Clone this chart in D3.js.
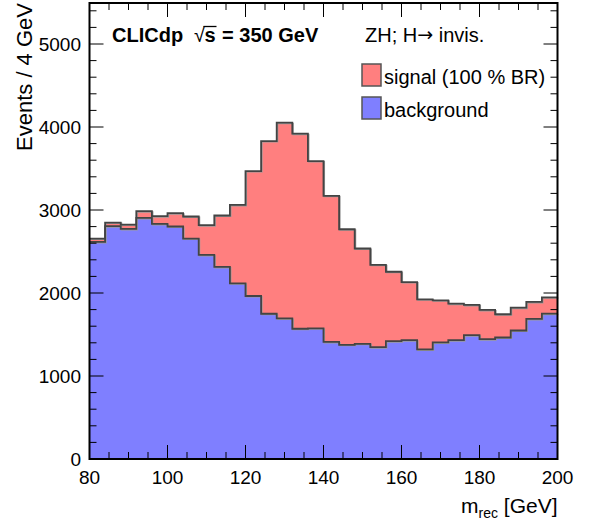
<!DOCTYPE html>
<html>
<head>
<meta charset="utf-8">
<script src="https://cdn.jsdelivr.net/npm/d3@7"></script>
<style>
  html, body { margin: 0; padding: 0; background: #fff; }
  svg { display: block; font-family: "Liberation Sans", Arial, Helvetica, sans-serif; }
</style>
</head>
<body>
<svg id="chart" width="590" height="525"></svg>
<script>
// ---- data ----
const binLowEdges = [80, 84, 88, 92, 96, 100, 104, 108, 112, 116, 120, 124, 128, 132, 136,
                     140, 144, 148, 152, 156, 160, 164, 168, 172, 176, 180, 184, 188, 192, 196];
const binWidth = 4;
const background = [2616, 2805, 2773, 2905, 2833, 2801, 2656, 2459, 2314, 2117, 1964, 1750, 1694, 1569, 1575,
                    1410, 1376, 1388, 1348, 1420, 1432, 1320, 1404, 1432, 1492, 1444, 1464, 1548, 1688, 1752];
const signal = [40, 44, 52, 81, 93, 161, 266, 358, 620, 945, 1505, 2081, 2358, 2351, 2015,
                1761, 1392, 1148, 992, 836, 700, 604, 508, 440, 364, 352, 280, 276, 204, 196];
const xTickLabels = [80, 100, 120, 140, 160, 180, 200];
const yTickLabels = [0, 1000, 2000, 3000, 4000, 5000];
const legendItems = [
  { label: "signal (100 % BR)", color: "#ff7f7f" },
  { label: "background", color: "#7f7fff" }
];

// ---- layout ----
const L = 89.5, R = 557.5, T = 3, B = 459;
const svg = d3.select("#chart");

const x = d3.scaleLinear().domain([80, 200]).range([L, R]);
const y = d3.scaleLinear().domain([0, 5494]).range([B, T]);

const total = background.map((b, i) => b + signal[i]);

function stepPoints(vals) {
  const pts = binLowEdges.map((e, i) => [e, vals[i]]);
  pts.push([binLowEdges[binLowEdges.length - 1] + binWidth, vals[vals.length - 1]]);
  return pts;
}

const area = d3.area().curve(d3.curveStepAfter)
  .x(d => x(d[0])).y0(y(0)).y1(d => y(d[1]));
const line = d3.line().curve(d3.curveStepAfter)
  .x(d => x(d[0])).y(d => y(d[1]));

const g = svg.append("g");

function drawHist(vals, color) {
  const pts = stepPoints(vals);
  g.append("path").attr("d", area(pts)).attr("fill", color).attr("stroke", "none");
  g.append("path").attr("d", line(pts)).attr("fill", "none")
    .attr("stroke", "#9a9a9a").attr("stroke-width", 1.5)
    .attr("transform", "translate(0.8,0.8)");
  g.append("path").attr("d", line(pts)).attr("fill", "none")
    .attr("stroke", "#444").attr("stroke-width", 1.8);
}
drawHist(total, legendItems[0].color);
drawHist(background, legendItems[1].color);

// ---- ticks ----
const tickG = svg.append("g").attr("stroke", "#000").attr("stroke-width", 1);
const majorLen = 14, minorLen = 7;
d3.range(80, 200.001, 5).forEach(v => {
  const isMajor = (v % 20 === 0);
  const len = isMajor ? majorLen : minorLen;
  const px = x(v);
  tickG.append("line").attr("x1", px).attr("x2", px).attr("y1", B).attr("y2", B - len);
  tickG.append("line").attr("x1", px).attr("x2", px).attr("y1", T).attr("y2", T + len);
});
d3.range(0, 5494, 200).forEach(v => {
  const isMajor = (v % 1000 === 0);
  const len = isMajor ? majorLen : minorLen;
  const py = y(v);
  tickG.append("line").attr("y1", py).attr("y2", py).attr("x1", L).attr("x2", L + len);
  tickG.append("line").attr("y1", py).attr("y2", py).attr("x1", R).attr("x2", R - len);
});

// frame
svg.append("rect").attr("x", L).attr("y", T).attr("width", R - L).attr("height", B - T)
  .attr("fill", "none").attr("stroke", "#000").attr("stroke-width", 2);

// tick labels
svg.append("g").selectAll("text").data(xTickLabels).join("text")
  .attr("x", d => x(d)).attr("y", 484).attr("text-anchor", "middle")
  .attr("font-size", 19).attr("fill", "#000").text(d => d);
svg.append("g").selectAll("text").data(yTickLabels).join("text")
  .attr("x", 81).attr("y", d => y(d)).attr("dy", "0.35em").attr("text-anchor", "end")
  .attr("font-size", 19).attr("fill", "#000").text(d => d);

// axis titles
const xt = svg.append("text").attr("x", R).attr("y", 513).attr("text-anchor", "end")
  .attr("font-size", 21).attr("fill", "#000");
xt.append("tspan").text("m");
xt.append("tspan").attr("font-size", 14).attr("dy", 5).text("rec");
xt.append("tspan").attr("dy", -5).text("\u00a0[GeV]");

svg.append("text").attr("transform", `translate(32,${T}) rotate(-90)`)
  .attr("text-anchor", "end").attr("font-size", 22).attr("fill", "#000")
  .text("Events / 4 GeV");

// CLICdp label
const base = 42;
svg.append("text").attr("x", 112).attr("y", base).attr("font-size", 20)
  .attr("font-weight", "bold").attr("fill", "#000").text("CLICdp");
svg.append("text").attr("x", 194).attr("y", base).attr("font-size", 20)
  .attr("fill", "#000").text("\u221a");
svg.append("text").attr("x", 204.5).attr("y", base).attr("font-size", 20)
  .attr("font-weight", "bold").attr("fill", "#000").text("s");
svg.append("line").attr("x1", 203.5).attr("x2", 216.5).attr("y1", 26.5).attr("y2", 26.5)
  .attr("stroke", "#000").attr("stroke-width", 1.3);
svg.append("text").attr("x", 216.5).attr("y", base).attr("font-size", 20)
  .attr("font-weight", "bold").attr("fill", "#000").text("\u00a0= 350 GeV");

// process label
const zh = svg.append("text").attr("x", 365).attr("y", base).attr("font-size", 20).attr("fill", "#000");
zh.append("tspan").text("ZH; H");
zh.append("tspan").attr("font-family", "DejaVu Sans").attr("font-size", 19).attr("dy", -1).text("\u2192");
zh.append("tspan").attr("dy", 1).text(" invis.");

// legend
const leg = svg.append("g");
legendItems.forEach((d, i) => {
  const yy = 64 + i * 33;
  leg.append("rect").attr("x", 362).attr("y", yy).attr("width", 19).attr("height", 22)
    .attr("fill", d.color).attr("stroke", "#555").attr("stroke-width", 1.5);
  leg.append("text").attr("x", 384).attr("y", yy + 20).attr("font-size", 20).attr("fill", "#000")
    .text(d.label);
});
</script>
</body>
</html>
